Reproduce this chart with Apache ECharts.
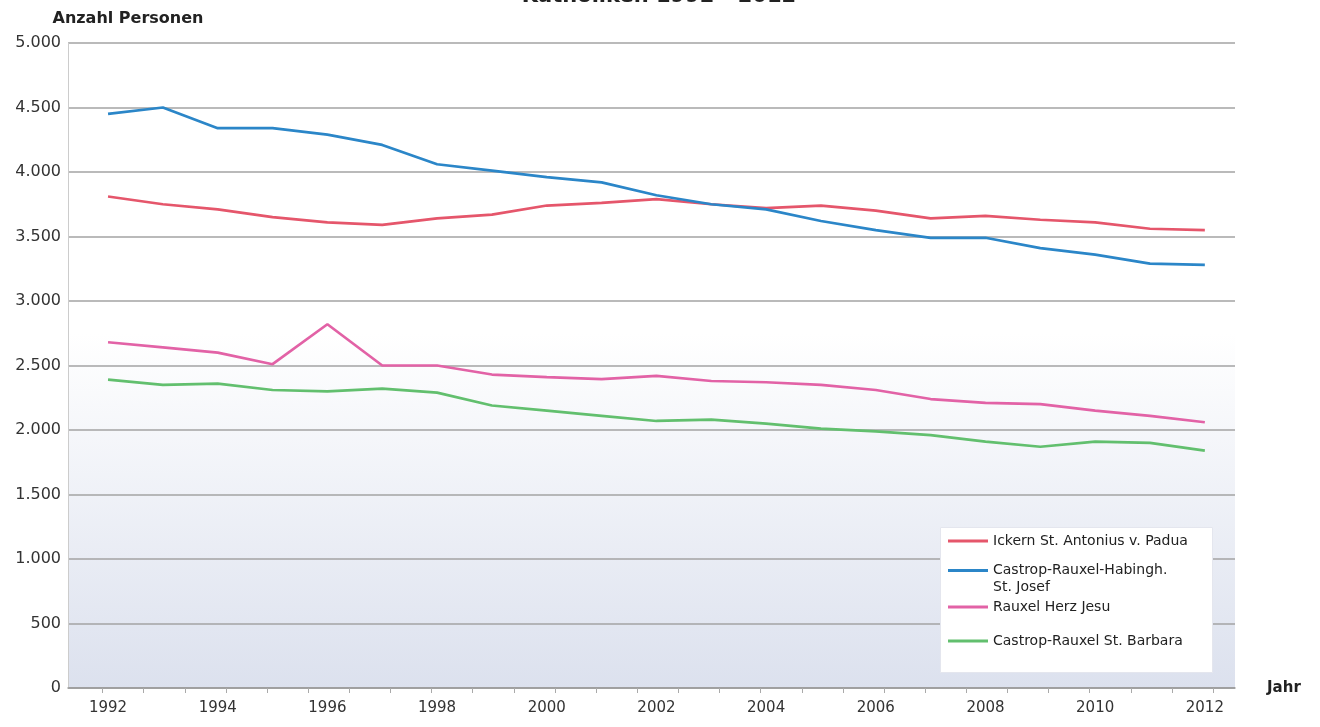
<!DOCTYPE html>
<html><head><meta charset="utf-8">
<script src="https://cdn.jsdelivr.net/npm/echarts@6/dist/echarts.min.js"></script>
<style>html,body{margin:0;padding:0;background:#fff}#c{width:1320px;height:727px}</style>
</head><body><div id="c"></div>
<script>
const years = [1992,1993,1994,1995,1996,1997,1998,1999,2000,2001,2002,2003,2004,2005,2006,2007,2008,2009,2010,2011,2012];
const yearLabels = [1992,1994,1996,1998,2000,2002,2004,2006,2008,2010,2012];
const seriesNames = ['Ickern St. Antonius v. Padua','Castrop-Rauxel-Habingh. St. Josef','Rauxel Herz Jesu','Castrop-Rauxel St. Barbara'];
const ickern   = [3810,3750,3710,3650,3610,3590,3640,3670,3740,3760,3790,3750,3720,3740,3700,3640,3660,3630,3610,3560,3550];
const habingh  = [4450,4500,4340,4340,4290,4210,4060,4010,3960,3920,3820,3750,3710,3620,3550,3490,3490,3410,3360,3290,3280];
const herzJesu = [2680,2640,2600,2510,2820,2500,2500,2430,2410,2395,2420,2380,2370,2350,2310,2240,2210,2200,2150,2110,2060];
const barbara  = [2390,2350,2360,2310,2300,2320,2290,2190,2150,2110,2070,2080,2050,2010,1990,1960,1910,1870,1910,1900,1840];
const tickYears = [1991.9,1992.65,1993.4,1994.15,1994.9,1995.65,1996.4,1997.15,1997.9,1998.65,1999.4,2000.15,2000.9,2001.65,2002.4,2003.15,2003.9,2004.65,2005.4,2006.15,2006.9,2007.65,2008.4,2009.15,2009.9,2010.65,2011.4,2012.15];
const colors = ['#e5566b','#2b86c8','#e262a6','#62bf6e'];

const chart = echarts.init(document.getElementById('c'));
const allData = [ickern, habingh, herzJesu, barbara];
const fmt = v => String(v).replace(/\B(?=(\d{3})+(?!\d))/g, '.');
const FONT = 'DejaVu Sans';
const legendTops = [534, 545, 600, 634];
chart.setOption({
  animation: false,
  color: colors,
  title: {text: 'Katholiken 1992 - 2012', left: 654, textAlign: 'center', top: -19,
    textStyle: {fontFamily: FONT, fontSize: 21, fontWeight: 'bold', color: '#222'}},
  graphic: [{type: 'rect', left: 940, top: 527, shape: {width: 272, height: 145},
    style: {fill: '#fff', stroke: '#e4e6ee', lineWidth: 1}, z: 5}],
  legend: seriesNames.map((n, i) => ({
    data: [n], left: 948, top: legendTops[i], itemWidth: 40, itemHeight: 3, padding: 0, z: 10,
    icon: 'rect',
    formatter: nm => nm === 'Castrop-Rauxel-Habingh. St. Josef' ? ' \nCastrop-Rauxel-Habingh.\nSt. Josef' : nm,
    textStyle: {fontFamily: FONT, fontSize: 14, color: '#222', padding: [0,0,0,0], lineHeight: i === 1 ? 17 : 14},
    selectedMode: false
  })),
  grid: {left: 68, right: 85, top: 43, bottom: 39, show: true, borderWidth: 0,
    backgroundColor: new echarts.graphic.LinearGradient(0, 0, 0, 1, [
      {offset: 0, color: '#ffffff'}, {offset: 0.45, color: '#ffffff'}, {offset: 1, color: '#dce1ee'}])},
  xAxis: {type: 'value', min: 1991.27, max: 2012.55,
    name: 'Jahr', nameLocation: 'end', nameGap: 32,
    nameTextStyle: {fontFamily: FONT, fontSize: 15, fontWeight: 'bold', color: '#222', padding: [60,0,0,0]},
    axisLine: {show: true, lineStyle: {color: '#999', width: 1.5}},
    axisTick: {show: true, customValues: tickYears, length: 5, lineStyle: {color: '#aaa'}},
    axisLabel: {customValues: yearLabels, formatter: v => String(v), margin: 13,
      fontFamily: FONT, fontSize: 15, color: '#333'},
    splitLine: {show: false}},
  yAxis: {type: 'value', min: 0, max: 5000, interval: 500,
    name: 'Anzahl Personen', nameLocation: 'end', nameGap: 16,
    nameTextStyle: {fontFamily: FONT, fontSize: 16, fontWeight: 'bold', color: '#222', align: 'center', padding: [0,0,0,120]},
    axisLine: {show: true, lineStyle: {color: '#ccc', width: 1}},
    axisTick: {show: false},
    axisLabel: {formatter: fmt, margin: 7, fontFamily: FONT, fontSize: 16, color: '#333'},
    splitLine: {lineStyle: {color: '#a3a3a3', width: 1.5}}},
  series: seriesNames.map((n, i) => ({
    name: n, type: 'line', showSymbol: false, symbol: 'none',
    lineStyle: {width: 2.7, color: colors[i]},
    itemStyle: {color: colors[i]},
    data: years.map((y, k) => [y, allData[i][k]])
  }))
});
</script></body></html>
